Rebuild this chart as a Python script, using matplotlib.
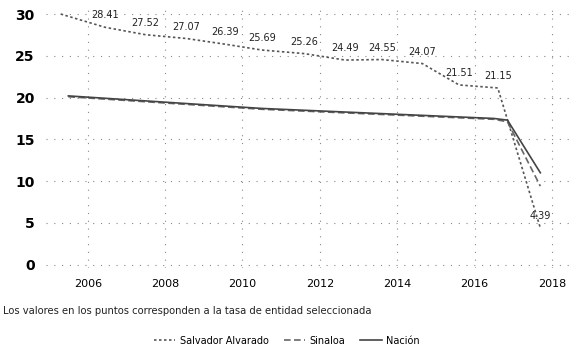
import matplotlib
matplotlib.use("Agg")
import matplotlib.pyplot as plt

# Data (decimal years)
mun_x = [2005.3, 2006.45, 2007.5, 2008.55, 2009.55, 2010.5, 2011.6, 2012.65, 2013.6, 2014.65, 2015.6, 2016.6, 2017.7]
mun_y = [30.0, 28.41, 27.52, 27.07, 26.39, 25.69, 25.26, 24.49, 24.55, 24.07, 21.51, 21.15, 4.39]
mun_labels = ["", "28.41", "27.52", "27.07", "26.39", "25.69", "25.26", "24.49", "24.55", "24.07", "21.51", "21.15", "4.39"]

st_x = [2005.5, 2006.5, 2007.5, 2008.5, 2009.5, 2010.5, 2011.5, 2012.5, 2013.5, 2014.5, 2015.5, 2016.5, 2016.85, 2017.7]
st_y = [20.1, 19.8, 19.5, 19.2, 18.9, 18.6, 18.4, 18.2, 18.0, 17.8, 17.6, 17.4, 17.1, 9.4]

nat_x = [2005.5, 2006.5, 2007.5, 2008.5, 2009.5, 2010.5, 2011.5, 2012.5, 2013.5, 2014.5, 2015.5, 2016.5, 2016.85, 2017.7]
nat_y = [20.2, 19.9, 19.6, 19.3, 19.0, 18.7, 18.5, 18.3, 18.1, 17.9, 17.7, 17.5, 17.3, 11.0]

series_names = ["Salvador Alvarado", "Sinaloa", "Nación"]
x_ticks = [2006, 2008, 2010, 2012, 2014, 2016, 2018]
y_ticks = [0, 5, 10, 15, 20, 25, 30]
note = "Los valores en los puntos corresponden a la tasa de entidad seleccionada"

fig = plt.figure(figsize=(5.74, 3.55), dpi=100)
ax = fig.add_axes([0.08, 0.245, 0.92, 0.732])

ax.plot(mun_x, mun_y, linestyle=(0, (1.5, 1.5)), color="#555555", lw=1.2, label=series_names[0])
ax.plot(st_x, st_y, linestyle=(0, (4, 2)), color="#666666", lw=1.2, label=series_names[1])
ax.plot(nat_x, nat_y, linestyle="-", color="#444444", lw=1.2, label=series_names[2])

for x, y, t in zip(mun_x, mun_y, mun_labels):
    if t:
        ax.annotate(t, (x, y), xytext=(0, 5), textcoords="offset points",
                    ha="center", va="bottom", fontsize=7, color="#222222")

ax.set_xlim(2004.92, 2018.57)
ax.set_ylim(-0.4, 30.7)
ax.set_xticks(x_ticks)
ax.set_yticks(y_ticks)
ax.tick_params(axis="both", length=0)
ax.tick_params(axis="x", labelsize=8, pad=8)
ax.tick_params(axis="y", labelsize=10, pad=8)
for lab in ax.get_yticklabels():
    lab.set_fontweight("bold")
ax.grid(True, linestyle=(0, (1, 6)), color="#888888", lw=0.8)
for s in ax.spines.values():
    s.set_visible(False)

fig.text(0.005, 0.125, note, fontsize=7.2, ha="left", va="center", color="#222222")
fig.legend(loc="center", bbox_to_anchor=(0.5, 0.04), ncol=3, frameon=False,
           fontsize=7, handlelength=2.2, columnspacing=1.5, handletextpad=0.5)

fig.savefig("out.png", dpi=100)
